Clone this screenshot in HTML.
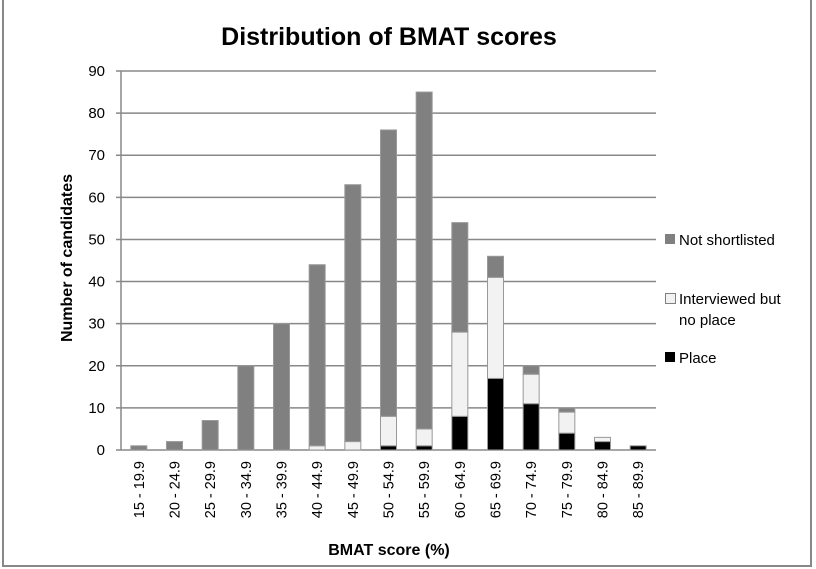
<!DOCTYPE html>
<html><head><meta charset="utf-8"><style>
body{margin:0;background:#fff;}
svg{display:block;font-family:"Liberation Sans",sans-serif;}
</style></head><body>
<svg id="chart" width="816" height="569">
<rect x="3" y="-2" width="808" height="568" fill="#fff" stroke="#888" stroke-width="2"/>
<text x="389" y="45" font-size="25" font-weight="bold" text-anchor="middle" fill="#000">Distribution of BMAT scores</text>
<g id="grid"></g><g id="bars"></g><g id="axes"></g>
<text transform="translate(72,258) rotate(-90)" font-size="16" font-weight="bold" text-anchor="middle">Number of candidates</text>
<text x="389" y="555" font-size="16" font-weight="bold" text-anchor="middle">BMAT score (%)</text>
<g>
<rect x="665" y="234" width="10" height="10" fill="#808080"/>
<text x="679" y="245" font-size="15">Not shortlisted</text>
<rect x="665.5" y="293.5" width="10" height="10" fill="#f2f2f2" stroke="#808080"/>
<text x="679" y="304" font-size="15">Interviewed but</text>
<text x="679" y="325" font-size="15">no place</text>
<rect x="665" y="352" width="10" height="10" fill="#000"/>
<text x="679" y="363" font-size="15">Place</text>
</g>
</svg>
<script>
const categories=["15 - 19.9","20 - 24.9","25 - 29.9","30 - 34.9","35 - 39.9","40 - 44.9","45 - 49.9","50 - 54.9","55 - 59.9","60 - 64.9","65 - 69.9","70 - 74.9","75 - 79.9","80 - 84.9","85 - 89.9"];
const place=[0,0,0,0,0,0,0,1,1,8,17,11,4,2,1];
const interviewed=[0,0,0,0,0,1,2,7,4,20,24,7,5,1,0];
const notShortlisted=[1,2,7,20,30,43,61,68,80,26,5,2,1,0,0];
const yTicks=[0,10,20,30,40,50,60,70,80,90];
const NS="http://www.w3.org/2000/svg";
const L=121,R=656,T=71,B=450,yMax=90;
const y=v=>B-(v/yMax)*(B-T);
const band=(R-L)/categories.length;
const xc=i=>L+band*(i+0.5);
function mk(tag,attrs,parent){const e=document.createElementNS(NS,tag);for(const k in attrs)e.setAttribute(k,attrs[k]);parent.appendChild(e);return e;}
const grid=document.getElementById('grid'),bars=document.getElementById('bars'),axes=document.getElementById('axes');
yTicks.forEach(t=>{
  const g=mk('line',{x1:116,x2:R,y1:y(t),y2:y(t),stroke:'#888','stroke-width':1.5},grid);
  
  
  const tx=mk('text',{x:105,y:y(t)+5,'font-size':15,'text-anchor':'end'},axes);
  tx.textContent=t;
  
  
});
const ax=mk('line',{x1:L,x2:L,y1:T,y2:B,stroke:'#888','stroke-width':1.5},axes);


const bw=16;
categories.forEach((c,i)=>{
  let base=0;
  [[place[i],'#000','place'],[interviewed[i],'#f2f2f2','interviewed'],[notShortlisted[i],'#808080','not-shortlisted']].forEach(([v,col,nm])=>{
    if(v<=0)return;
    const r=mk('rect',{x:xc(i)-bw/2,y:y(base+v),width:bw,height:y(base)-y(base+v),fill:col,stroke:'#999','stroke-width':1},bars);
    
    
    base+=v;
  });
  const t=mk('text',{transform:`translate(${xc(i)+5},${B+11}) rotate(-90)`,'font-size':14.5,'text-anchor':'end'},axes);
  t.textContent=c;
  
  
});
</script>
</body></html>
